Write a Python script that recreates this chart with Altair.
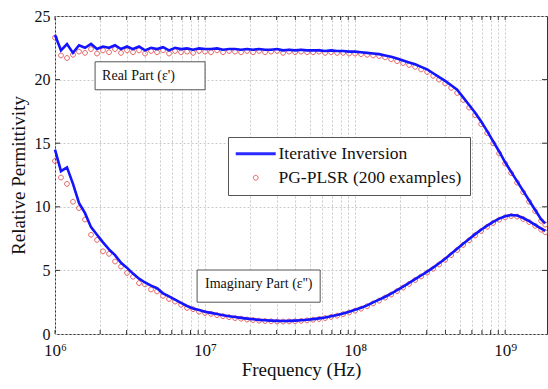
import altair as alt
import pandas as pd

# ---------------- data ----------------
freq = [
    1.000e6, 1.096e6, 1.202e6, 1.318e6, 1.445e6, 1.585e6, 1.738e6, 1.905e6, 2.089e6, 2.291e6,
    2.512e6, 2.754e6, 3.020e6, 3.311e6, 3.631e6, 3.981e6, 4.365e6, 4.786e6, 5.248e6, 5.754e6,
    6.310e6, 6.918e6, 7.586e6, 8.318e6, 9.120e6,
    1.000e7, 1.096e7, 1.202e7, 1.318e7, 1.445e7, 1.585e7, 1.738e7, 1.905e7, 2.089e7, 2.291e7,
    2.512e7, 2.754e7, 3.020e7, 3.311e7, 3.631e7, 3.981e7, 4.365e7, 4.786e7, 5.248e7, 5.754e7,
    6.310e7, 6.918e7, 7.586e7, 8.318e7, 9.120e7,
    1.000e8, 1.096e8, 1.202e8, 1.318e8, 1.445e8, 1.585e8, 1.738e8, 1.905e8, 2.089e8, 2.291e8,
    2.512e8, 2.754e8, 3.020e8, 3.311e8, 3.631e8, 3.981e8, 4.365e8, 4.786e8, 5.248e8, 5.754e8,
    6.310e8, 6.918e8, 7.586e8, 8.318e8, 9.120e8,
    1.000e9, 1.096e9, 1.202e9, 1.318e9, 1.445e9, 1.585e9, 1.738e9, 1.850e9,
]

real_ii = [
    23.5, 22.3, 22.8, 22.1, 22.7, 22.5, 22.8, 22.4, 22.6, 22.5,
    22.7, 22.4, 22.6, 22.4, 22.6, 22.3, 22.5, 22.4, 22.55, 22.3,
    22.5, 22.4, 22.45, 22.35, 22.45,
    22.4, 22.4, 22.45, 22.35, 22.4, 22.4, 22.35, 22.4, 22.35, 22.4,
    22.35, 22.35, 22.4, 22.3, 22.35, 22.3, 22.35, 22.3, 22.3, 22.3,
    22.25, 22.3, 22.25, 22.25, 22.2,
    22.2, 22.15, 22.1, 22.05, 22.0, 21.9, 21.8, 21.65, 21.5, 21.35,
    21.2, 21.0, 20.8, 20.5, 20.2, 19.9, 19.55, 19.2, 18.6, 18.0,
    17.4, 16.7, 15.95, 15.15, 14.35,
    13.5, 12.75, 12.0, 11.25, 10.5, 9.75, 9.0, 8.7,
]

imag_ii = [
    14.5, 12.8, 13.1, 11.8, 10.3, 9.5, 8.4, 7.8, 7.2, 6.65,
    6.2, 5.6, 5.2, 4.75, 4.35, 4.05, 3.8, 3.6, 3.2, 2.95,
    2.7, 2.45, 2.2, 2.0, 1.88,
    1.75, 1.66, 1.57, 1.48, 1.4, 1.33, 1.27, 1.21, 1.16, 1.11,
    1.08, 1.05, 1.03, 1.02, 1.03, 1.05, 1.08, 1.12, 1.17, 1.23,
    1.3, 1.4, 1.5, 1.62, 1.75,
    1.9, 2.06, 2.25, 2.48, 2.7, 2.93, 3.18, 3.45, 3.73, 4.02,
    4.32, 4.6, 4.9, 5.22, 5.56, 5.92, 6.3, 6.7, 7.1, 7.47,
    7.85, 8.2, 8.52, 8.82, 9.07,
    9.26, 9.36, 9.32, 9.12, 8.88, 8.58, 8.28, 8.1,
]

real_pls = [
    23.3, 21.9, 21.7, 21.95, 22.2, 22.1, 22.4, 22.05, 22.3, 22.15,
    22.4, 22.1, 22.3, 22.15, 22.3, 22.05, 22.25, 22.15, 22.3, 22.05,
    22.25, 22.15, 22.2, 22.1, 22.25,
    22.2, 22.15, 22.3, 22.15, 22.25, 22.2, 22.15, 22.25, 22.15, 22.25,
    22.15, 22.2, 22.25, 22.1, 22.2, 22.15, 22.2, 22.15, 22.15, 22.2,
    22.1, 22.15, 22.1, 22.1, 22.05,
    22.05, 22.0, 21.95, 21.9, 21.85, 21.75, 21.6, 21.45, 21.3, 21.15,
    21.0, 20.8, 20.6, 20.3, 20.0, 19.7, 19.35, 18.95, 18.4, 17.8,
    17.2, 16.5, 15.8, 15.0, 14.2,
    13.4, 12.65, 11.9, 11.15, 10.4, 9.65, 8.9, 8.6,
]

imag_pls = [
    13.6, 12.3, 11.8, 10.4, 9.9, 9.0, 7.8, 7.4, 6.5, 6.3,
    5.7, 5.3, 4.8, 4.5, 4.0, 3.9, 3.5, 3.35, 3.0, 2.75,
    2.55, 2.3, 2.05, 1.95, 1.75,
    1.65, 1.58, 1.48, 1.4, 1.32, 1.25, 1.2, 1.14, 1.1, 1.05,
    1.02, 1.0, 0.98, 0.98, 0.99, 1.0, 1.03, 1.07, 1.12, 1.18,
    1.25, 1.34, 1.44, 1.56, 1.69,
    1.83, 1.99, 2.18, 2.4, 2.62, 2.86, 3.1, 3.37, 3.65, 3.94,
    4.24, 4.52, 4.82, 5.13, 5.47, 5.83, 6.2, 6.6, 7.0, 7.37,
    7.75, 8.1, 8.43, 8.73, 8.98,
    9.17, 9.27, 9.23, 9.04, 8.8, 8.5, 8.2, 8.0,
]

series_names = ["Iterative Inversion", "PG-PLSR (200 examples)"]

x_major = [1e6, 1e7, 1e8, 1e9]
x_major_labels = ["10⁶", "10⁷", "10⁸", "10⁹"]
x_mantissas = [1, 2, 3, 4, 5, 6, 7, 8, 9]
y_ticks = [0, 5, 10, 15, 20, 25]

ann_text = ["Real Part (ε')", "Imaginary Part (ε'')"]
ann_x = [2.06e6, 1.0e7]
ann_y = [20.3, 3.9]
box_x1 = [1.85e6, 8.85e6]
box_x2 = [1.0e7, 5.85e7]
box_y1 = [19.2, 2.5]
box_y2 = [21.4, 5.03]

# ---------------- tables ----------------
n = len(freq)
line_df = pd.DataFrame({
    "f": freq + freq,
    "v": real_ii + imag_ii,
    "part": ["real"] * n + ["imag"] * n,
    "series": [series_names[0]] * (2 * n),
})
pt_df = pd.DataFrame({
    "f": freq + freq,
    "v": real_pls + imag_pls,
    "part": ["real"] * n + ["imag"] * n,
    "series": [series_names[1]] * (2 * n),
})
x_grid = [m * d for d in [1e6, 1e7, 1e8] for m in x_mantissas] + [1e9]
label_expr = " : ".join(
    f"datum.value == {v:g} ? '{l}'" for v, l in zip(x_major, x_major_labels)
) + " : ''"

ann_df = pd.DataFrame({"t": ann_text, "x": ann_x, "y": ann_y})
box_df = pd.DataFrame({"x1": box_x1, "x2": box_x2, "y1": box_y1, "y2": box_y2})
xt_df = pd.DataFrame({"f": x_grid})
yt_df = pd.DataFrame({"v": y_ticks[1:-1]})

FONT = "Liberation Serif"
W, H = 492, 318

xscale = alt.Scale(type="log", domain=[1e6, 1.9e9], nice=False)
yscale = alt.Scale(domain=[0, 25], nice=False)

xaxis = alt.Axis(
    values=x_grid, labelExpr=label_expr, title="Frequency (Hz)",
    grid=True, gridDash=[2, 2], gridColor="#c8c8c8", gridWidth=1,
    domain=False, ticks=False, labelFont=FONT, labelFontSize=17, labelColor="#111",
    labelPadding=8, labelFlush=False, labelOverlap=False,
    titleFont=FONT, titleFontSize=19, titleFontWeight="normal", titleColor="#111",
    titlePadding=2,
)
yaxis = alt.Axis(
    values=y_ticks, title="Relative Permittivity",
    grid=True, gridDash=[2, 2], gridColor="#c8c8c8", gridWidth=1,
    domain=False, ticks=False, labelFont=FONT, labelFontSize=16, labelColor="#111",
    labelPadding=5, titleFont=FONT, titleFontSize=19, titleFontWeight="normal",
    titleColor="#111", titlePadding=6,
)

# legend symbols: a 40 px stroke for the line, a small circle for the points
LINE_PATH = "M-4,0H4"
CIRC_PATH = "M0.48,0A0.48,0.48,0,1,1,-0.48,0A0.48,0.48,0,1,1,0.48,0Z"

leg = alt.Legend(
    orient="none", legendX=173, legendY=121, title=None,
    fillColor="white", strokeColor="#555", padding=8, rowPadding=5,
    labelFont=FONT, labelFontSize=17.5, labelColor="#111", labelOffset=14,
    symbolOffset=11, labelLimit=400,
)

color = alt.Color("series:N", scale=alt.Scale(domain=series_names, range=["#1414ff", "#e03c3c"]), legend=leg)

points = alt.Chart(pt_df).mark_point(filled=False, opacity=0.9, size=100).encode(
    x=alt.X("f:Q", scale=xscale, axis=xaxis),
    y=alt.Y("v:Q", scale=yscale, axis=yaxis),
    color=color,
    shape=alt.Shape("series:N", scale=alt.Scale(domain=series_names, range=[LINE_PATH, CIRC_PATH]), legend=leg),
    strokeWidth=alt.StrokeWidth("series:N", scale=alt.Scale(domain=series_names, range=[3, 0.9]), legend=leg),
)

lines = alt.Chart(line_df).mark_line(strokeWidth=2.6).encode(
    x=alt.X("f:Q", scale=xscale),
    y=alt.Y("v:Q", scale=yscale),
    detail="part:N",
    color=color,
)

xticks_b = alt.Chart(xt_df).mark_rule(color="#333", strokeWidth=1).encode(
    x=alt.X("f:Q", scale=xscale), y=alt.value(H), y2=alt.value(H - 4))
xticks_t = alt.Chart(xt_df).mark_rule(color="#333", strokeWidth=1).encode(
    x=alt.X("f:Q", scale=xscale), y=alt.value(0), y2=alt.value(4))
yticks_l = alt.Chart(yt_df).mark_rule(color="#333", strokeWidth=1).encode(
    y=alt.Y("v:Q", scale=yscale), x=alt.value(0), x2=alt.value(5))
yticks_r = alt.Chart(yt_df).mark_rule(color="#333", strokeWidth=1).encode(
    y=alt.Y("v:Q", scale=yscale), x=alt.value(W), x2=alt.value(W - 5))

boxes = alt.Chart(box_df).mark_rect(fill="white", stroke="#555", strokeWidth=1).encode(
    x=alt.X("x1:Q", scale=xscale), x2="x2:Q",
    y=alt.Y("y1:Q", scale=yscale), y2="y2:Q",
)
texts = alt.Chart(ann_df).mark_text(align="left", baseline="middle", font=FONT, fontSize=14, color="#111").encode(
    x=alt.X("x:Q", scale=xscale), y=alt.Y("y:Q", scale=yscale), text="t:N",
)

chart = alt.layer(
    points, lines, xticks_b, xticks_t, yticks_l, yticks_r, boxes, texts
).properties(
    width=W, height=H,
    padding={"left": 55, "top": 16, "right": 1, "bottom": 55},
    autosize=alt.AutoSizeParams(type="none"),
    background="white",
).configure_view(stroke="#333", strokeWidth=1)

chart.save("out.html", embed_options={"renderer": "svg", "actions": False})
